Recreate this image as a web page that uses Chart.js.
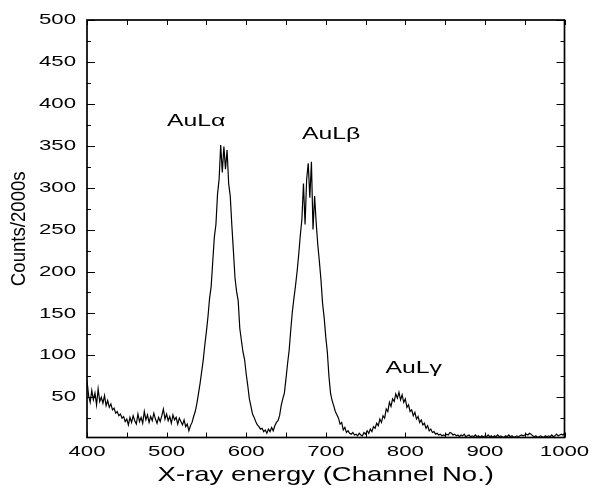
<!DOCTYPE html>
<html>
<head>
<meta charset="utf-8">
<script src="https://cdn.jsdelivr.net/npm/chart.js@4.4.1/dist/chart.umd.min.js"></script>
<style>
  html, body { margin: 0; padding: 0; background: #fff; }
  #wrap { width: 592px; height: 493px; }
</style>
</head>
<body>
<div id="wrap"><canvas id="c" width="592" height="493"></canvas></div>
<script>
// ---------------- DATA ----------------
const channels = [
  400,402,404,406,408,410,412,414,416,418,
  420,422,424,426,428,430,432,434,436,438,
  440,442,444,446,448,450,452,454,456,458,
  460,462,464,466,468,470,472,474,476,478,
  480,482,484,486,488,490,492,494,496,498,
  500,502,504,506,508,510,512,514,516,518,
  520,522,524,526,528,530,532,534,536,538,
  540,542,544,546,548,550,552,554,556,558,
  560,562,564,566,568,570,572,574,576,578,
  580,582,584,586,588,590,592,594,596,598,
  600,602,604,606,608,610,612,614,616,618,
  620,622,624,626,628,630,632,634,636,638,
  640,642,644,646,648,650,652,654,656,658,
  660,662,664,666,668,670,672,674,676,678,
  680,682,684,686,688,690,692,694,696,698,
  700,702,704,706,708,710,712,714,716,718,
  720,722,724,726,728,730,732,734,736,738,
  740,742,744,746,748,750,752,754,756,758,
  760,762,764,766,768,770,772,774,776,778,
  780,782,784,786,788,790,792,794,796,798,
  800,802,804,806,808,810,812,814,816,818,
  820,822,824,826,828,830,832,834,836,838,
  840,842,844,846,848,850,852,854,856,858,
  860,862,864,866,868,870,872,874,876,878,
  880,882,884,886,888,890,892,894,896,898,
  900,902,904,906,908,910,912,914,916,918,
  920,922,924,926,928,930,932,934,936,938,
  940,942,944,946,948,950,952,954,956,958,
  960,962,964,966,968,970,972,974,976,978,
  980,982,984,986,988,990,992,994,996,998,
  1000
];
const counts = [
  70,52,44,58,47,55,41,60,45,50,
  43,52,40,46,38,42,35,37,31,33,
  28,30,25,27,21,24,17,26,20,28,
  22,18,30,21,26,19,33,23,29,20,
  27,22,31,24,19,26,21,28,36,24,
  30,22,27,19,29,23,26,18,25,21,
  17,23,15,18,10,16,20,27,33,42,
  54,66,80,94,112,128,146,168,182,212,
  241,256,292,310,351,318,349,322,345,305,
  290,255,224,192,176,165,132,118,104,95,
  78,64,48,39,30,26,21,17,15,12,
  13,9,11,7,12,9,14,10,16,20,
  22,28,40,48,55,72,90,106,130,152,
  168,183,200,220,243,262,305,256,310,329,
  288,331,250,290,258,232,212,190,162,145,
  122,104,75,55,46,40,33,29,25,18,
  20,11,14,8,10,7,6,8,5,6,
  4,7,5,4,8,6,10,7,12,9,
  15,13,19,16,24,20,28,25,36,33,
  44,39,48,45,54,49,56,47,53,44,
  48,38,41,33,35,28,32,24,27,20,
  23,17,19,13,16,10,12,8,9,6,
  7,5,6,4,5,4,6,5,8,7,
  5,6,4,5,3,5,4,6,3,4,
  5,3,4,3,5,3,4,2,4,3,
  4,3,5,3,4,2,4,3,5,3,
  4,3,2,4,3,5,3,4,2,3,
  4,3,4,5,4,5,6,5,7,6,
  4,3,4,2,3,4,3,2,4,3,
  4,3,5,3,4,6,4,5,6,5,
  7
];
const xMajorTicks = [400, 500, 600, 700, 800, 900, 1000];
const xMinorTicks = [450, 550, 650, 750, 850, 950];
const yMajorTicks = [50, 100, 150, 200, 250, 300, 350, 400, 450, 500];
const yMinorTicks = [25, 75, 125, 175, 225, 275, 325, 375, 425, 475];
const peakLabels = ['AuL\u03B1', 'AuL\u03B2', 'AuL\u03B3'];
const peakLabelChannels = [500.5, 670, 775];
const peakLabelCounts = [374, 358, 78.5];
const xTitle = 'X-ray energy (Channel No.)';
const yTitle = 'Counts/2000s';

// ---------------- STYLE ----------------
const FONT = '"Liberation Sans", Arial, Helvetica, sans-serif';
// horizontal stretch of text, keyed by font pixel size (reference text is wide)
const TEXT_STRETCH = { 15: 1.48, 16: 1.55, 20: 0.93, 21: 1.31 };
const _fillText = CanvasRenderingContext2D.prototype.fillText;
CanvasRenderingContext2D.prototype.fillText = function (t, x, y, mw) {
  const m = /(\d+(?:\.\d+)?)px/.exec(this.font);
  const s = m ? TEXT_STRETCH[Math.round(parseFloat(m[1]))] : undefined;
  if (!s) {
    if (mw === undefined) return _fillText.call(this, t, x, y);
    return _fillText.call(this, t, x, y, mw);
  }
  this.save();
  this.translate(x, y);
  this.scale(s, 1);
  _fillText.call(this, t, 0, 0);
  this.restore();
};

const points = channels.map((c, i) => ({ x: c, y: counts[i] }));

const framePlugin = {
  id: 'frame',
  afterDatasetsDraw(chart) {
    const { ctx, chartArea: a, scales: { x, y } } = chart;
    ctx.save();
    ctx.strokeStyle = '#000';
    ctx.lineWidth = 1;
    ctx.beginPath();
    const tick = (x1, y1, x2, y2) => { ctx.moveTo(x1, y1); ctx.lineTo(x2, y2); };
    xMajorTicks.concat(xMinorTicks).forEach(v => {
      const px = Math.round(x.getPixelForValue(v)) + 0.5;
      tick(px, a.bottom, px, a.bottom - 5);
      tick(px, a.top, px, a.top + 5);
    });
    yMajorTicks.forEach(v => {
      const py = Math.round(y.getPixelForValue(v)) + 0.5;
      tick(a.left, py, a.left + 8, py);
      tick(a.right, py, a.right - 8, py);
    });
    yMinorTicks.forEach(v => {
      const py = Math.round(y.getPixelForValue(v)) + 0.5;
      tick(a.left, py, a.left + 4, py);
      tick(a.right, py, a.right - 4, py);
    });
    ctx.stroke();
    ctx.lineWidth = 1.7;
    ctx.strokeRect(a.left, a.top, a.right - a.left, a.bottom - a.top);
    // peak labels
    ctx.fillStyle = '#000';
    ctx.font = '16px ' + FONT;
    ctx.textAlign = 'left';
    ctx.textBaseline = 'alphabetic';
    peakLabels.forEach((t, i) => {
      ctx.fillText(t, x.getPixelForValue(peakLabelChannels[i]), y.getPixelForValue(peakLabelCounts[i]));
    });
    ctx.restore();
  }
};

new Chart(document.getElementById('c'), {
  type: 'line',
  data: {
    datasets: [{
      data: points,
      borderColor: '#000',
      borderWidth: 1.2,
      pointRadius: 0,
      tension: 0,
      fill: false
    }]
  },
  options: {
    responsive: false,
    animation: false,
    events: [],
    layout: { padding: { top: 19, right: 27.5, left: 0, bottom: 0 } },
    plugins: { legend: { display: false }, tooltip: { enabled: false } },
    scales: {
      x: {
        type: 'linear',
        min: 400,
        max: 1000,
        afterBuildTicks: s => { s.ticks = xMajorTicks.map(v => ({ value: v })); },
        afterFit: s => { s.height = 55.5; },
        grid: { display: false, drawTicks: false },
        border: { display: false },
        ticks: {
          autoSkip: false,
          maxRotation: 0,
          padding: 5,
          color: '#000',
          font: { family: FONT, size: 15 },
          callback: v => String(v)
        },
        title: {
          display: true,
          text: xTitle,
          color: '#000',
          font: { family: FONT, size: 21 },
          padding: { top: 0, bottom: 5 }
        }
      },
      y: {
        type: 'linear',
        min: 2,
        max: 500,
        afterBuildTicks: s => { s.ticks = yMajorTicks.map(v => ({ value: v })); },
        afterFit: s => { s.width = 87; },
        grid: { display: false, drawTicks: false },
        border: { display: false },
        ticks: {
          padding: 11,
          color: '#000',
          font: { family: FONT, size: 15 },
          callback: v => String(v)
        },
        title: {
          display: true,
          text: yTitle,
          color: '#000',
          font: { family: FONT, size: 20 },
          padding: { top: 7, bottom: 0 }
        }
      }
    }
  },
  plugins: [framePlugin]
});
</script>
</body>
</html>
